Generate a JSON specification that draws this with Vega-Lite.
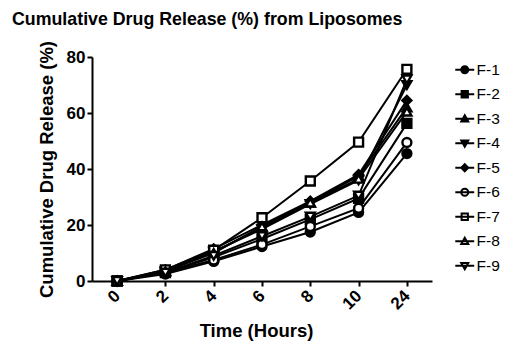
{
  "$schema": "https://vega.github.io/schema/vega-lite/v6.json",
  "width": 340,
  "height": 224,
  "autosize": {"type": "none"},
  "padding": {"left": 92, "top": 57, "right": 89, "bottom": 60},
  "background": "white",
  "config": {
    "font": "Liberation Sans",
    "view": {"stroke": null},
    "axis": {"domainColor": "black", "domainWidth": 2, "tickColor": "black", "tickWidth": 2, "tickSize": 5, "grid": false, "labelColor": "black", "labelFontWeight": "bold", "labelFontSize": 17, "titleFontSize": 18.5, "titleFontWeight": "bold", "titleColor": "black", "labelFont": "Liberation Sans", "titleFont": "Liberation Sans"}
  },
  "title": {"text": "Cumulative Drug Release (%) from Liposomes", "anchor": "start", "frame": "group", "fontSize": 17.8, "fontWeight": "bold", "color": "black", "font": "Liberation Sans", "offset": 12, "dx": -80},
  "data": {"values": [
    {"series": "F-1", "time": 0, "release": 0}, {"series": "F-1", "time": 2, "release": 2.5}, {"series": "F-1", "time": 4, "release": 7}, {"series": "F-1", "time": 6, "release": 12.3}, {"series": "F-1", "time": 8, "release": 17.5}, {"series": "F-1", "time": 10, "release": 24.5}, {"series": "F-1", "time": 24, "release": 45.5},
    {"series": "F-2", "time": 0, "release": 0}, {"series": "F-2", "time": 2, "release": 3}, {"series": "F-2", "time": 4, "release": 8.5}, {"series": "F-2", "time": 6, "release": 15}, {"series": "F-2", "time": 8, "release": 22}, {"series": "F-2", "time": 10, "release": 29.5}, {"series": "F-2", "time": 24, "release": 56.3},
    {"series": "F-3", "time": 0, "release": 0}, {"series": "F-3", "time": 2, "release": 3.5}, {"series": "F-3", "time": 4, "release": 10.5}, {"series": "F-3", "time": 6, "release": 19}, {"series": "F-3", "time": 8, "release": 28}, {"series": "F-3", "time": 10, "release": 37.5}, {"series": "F-3", "time": 24, "release": 62},
    {"series": "F-4", "time": 0, "release": 0}, {"series": "F-4", "time": 2, "release": 3.5}, {"series": "F-4", "time": 4, "release": 10.5}, {"series": "F-4", "time": 6, "release": 18.5}, {"series": "F-4", "time": 8, "release": 27.5}, {"series": "F-4", "time": 10, "release": 36}, {"series": "F-4", "time": 24, "release": 70},
    {"series": "F-5", "time": 0, "release": 0}, {"series": "F-5", "time": 2, "release": 4}, {"series": "F-5", "time": 4, "release": 11.5}, {"series": "F-5", "time": 6, "release": 20}, {"series": "F-5", "time": 8, "release": 28.5}, {"series": "F-5", "time": 10, "release": 38}, {"series": "F-5", "time": 24, "release": 64.5},
    {"series": "F-6", "time": 0, "release": 0}, {"series": "F-6", "time": 2, "release": 3}, {"series": "F-6", "time": 4, "release": 7.5}, {"series": "F-6", "time": 6, "release": 13}, {"series": "F-6", "time": 8, "release": 19.5}, {"series": "F-6", "time": 10, "release": 26}, {"series": "F-6", "time": 24, "release": 49.5},
    {"series": "F-7", "time": 0, "release": 0}, {"series": "F-7", "time": 2, "release": 4}, {"series": "F-7", "time": 4, "release": 11}, {"series": "F-7", "time": 6, "release": 22.6}, {"series": "F-7", "time": 8, "release": 35.7}, {"series": "F-7", "time": 10, "release": 49.6}, {"series": "F-7", "time": 24, "release": 75.6},
    {"series": "F-8", "time": 0, "release": 0}, {"series": "F-8", "time": 2, "release": 3.5}, {"series": "F-8", "time": 4, "release": 10}, {"series": "F-8", "time": 6, "release": 19.5}, {"series": "F-8", "time": 8, "release": 28}, {"series": "F-8", "time": 10, "release": 36.5}, {"series": "F-8", "time": 24, "release": 60.5},
    {"series": "F-9", "time": 0, "release": 0}, {"series": "F-9", "time": 2, "release": 3}, {"series": "F-9", "time": 4, "release": 9}, {"series": "F-9", "time": 6, "release": 16}, {"series": "F-9", "time": 8, "release": 23}, {"series": "F-9", "time": 10, "release": 30.5}, {"series": "F-9", "time": 24, "release": 72}
  ]},
  "encoding": {
    "x": {"field": "time", "type": "ordinal", "scale": {"type": "point", "domain": [0, 2, 4, 6, 8, 10, 24], "padding": 0.52}, "axis": {"title": "Time (Hours)", "labelAngle": -45, "labelAlign": "right", "labelBaseline": "middle", "labelPadding": 7, "titlePadding": 9, "titleX": 164}},
    "y": {"field": "release", "type": "quantitative", "scale": {"domain": [0, 80], "nice": false}, "axis": {"title": "Cumulative Drug Release (%)", "values": [0, 20, 40, 60, 80], "titlePadding": 10, "labelPadding": 2}}
  },
  "layer": [
    {"mark": {"type": "line", "color": "black", "strokeWidth": 2}, "encoding": {"detail": {"field": "series"}}},
    {"mark": {"type": "point", "filled": true, "stroke": "black", "strokeWidth": 2.4, "size": 80, "opacity": 1},
     "encoding": {
       "shape": {"field": "series", "scale": {"domain": ["F-1","F-2","F-3","F-4","F-5","F-6","F-7","F-8","F-9"], "range": ["circle","square","triangle-up","triangle-down","diamond","circle","square","triangle-up","triangle-down"]}, "legend": null},
       "fill": {"field": "series", "scale": {"domain": ["F-1","F-2","F-3","F-4","F-5","F-6","F-7","F-8","F-9"], "range": ["black","black","black","black","black","white","white","white","white"]}, "legend": null}
     }},
    {"mark": {"type": "point", "filled": true, "stroke": "black", "strokeWidth": 1.8, "size": 49, "opacity": 0},
     "encoding": {
       "shape": {"field": "series", "scale": {"domain": ["F-1","F-2","F-3","F-4","F-5","F-6","F-7","F-8","F-9"], "range": [
         "M-2.7,0H2.7M1,0A1,1 0 1,1 -1,0A1,1 0 1,1 1,0Z",
         "M-2.7,0H2.7M-0.9,-0.9H0.9V0.9H-0.9Z",
         "M-2.7,0H2.7M0,-1L1,0.8H-1Z",
         "M-2.7,0H2.7M0,1L1,-0.8H-1Z",
         "M-2.7,0H2.7M0,-1L1,0L0,1L-1,0Z",
         "M-2.7,0H2.7M1,0A1,1 0 1,1 -1,0A1,1 0 1,1 1,0Z",
         "M-2.7,0H2.7M-0.9,-0.9H0.9V0.9H-0.9Z",
         "M-2.7,0H2.7M0,-1L1,0.8H-1Z",
         "M-2.7,0H2.7M0,1L1,-0.8H-1Z"]},
         "legend": {"title": null, "orient": "none", "legendX": 365, "legendY": 5, "symbolOpacity": 1, "symbolStrokeColor": "black", "symbolStrokeWidth": 1.8, "labelFontSize": 15.5, "labelColor": "black", "labelFont": "Liberation Sans", "labelOffset": 4, "rowPadding": 7.5, "symbolSize": 49,
           "encode": {"symbols": {"update": {"stroke": {"value": "black"}, "strokeWidth": {"value": 2}, "opacity": {"value": 1}}}}}},
       "fill": {"field": "series", "scale": {"domain": ["F-1","F-2","F-3","F-4","F-5","F-6","F-7","F-8","F-9"], "range": ["black","black","black","black","black","white","white","white","white"]},
         "legend": {"title": null, "orient": "none", "legendX": 365, "legendY": 5, "symbolOpacity": 1, "symbolStrokeColor": "black", "symbolStrokeWidth": 1.8, "labelFontSize": 15.5, "labelColor": "black", "labelFont": "Liberation Sans", "labelOffset": 4, "rowPadding": 7.5, "symbolSize": 49,
           "encode": {"symbols": {"update": {"stroke": {"value": "black"}, "strokeWidth": {"value": 2}, "opacity": {"value": 1}}}}}}
     }}
  ],
  "resolve": {"scale": {"shape": "independent", "fill": "independent"}}
}
